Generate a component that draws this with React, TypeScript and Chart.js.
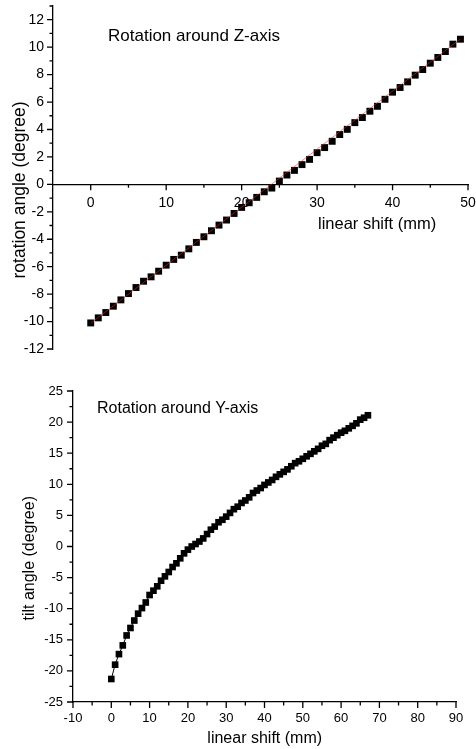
import React, { useEffect, useRef } from 'react';
import { Chart, registerables } from 'chart.js';

Chart.register(...registerables);

// ---------- Top chart: Rotation around Z-axis ----------
const zShift = [0, 1, 2, 3, 4, 5, 6, 7, 8, 9, 10, 11, 12, 13, 14, 15, 16, 17, 18, 19, 20, 21, 22, 23, 24, 25, 26, 27, 28, 29, 30, 31, 32, 33, 34, 35, 36, 37, 38, 39, 40, 41, 42, 43, 44, 45, 46, 47, 48, 49];
const zAngle = [-10.1, -9.73, -9.34, -8.88, -8.42, -7.96, -7.52, -7.06, -6.74, -6.33, -5.89, -5.47, -5.16, -4.7, -4.23, -3.82, -3.38, -2.97, -2.6, -2.12, -1.68, -1.34, -0.95, -0.54, -0.27, 0.24, 0.68, 1.02, 1.44, 1.82, 2.31, 2.68, 3.14, 3.63, 4.01, 4.5, 4.87, 5.33, 5.69, 6.2, 6.72, 7.06, 7.47, 7.96, 8.37, 8.83, 9.25, 9.68, 10.22, 10.58];
const zFitShift = [0, 49];
const zFitAngle = [-10.12, 10.6];
const zXTicks = [0, 10, 20, 30, 40, 50];
const zYTicks = [-12, -10, -8, -6, -4, -2, 0, 2, 4, 6, 8, 10, 12];
const zXMinor = [5, 15, 25, 35, 45];
const zYMinor = [-11, -9, -7, -5, -3, -1, 1, 3, 5, 7, 9, 11, 13];

// ---------- Bottom chart: Rotation around Y-axis ----------
const yShift = [0, 1, 2, 3, 4, 5, 6, 7, 8, 9, 10, 11, 12, 13, 14, 15, 16, 17, 18, 19, 20, 21, 22, 23, 24, 25, 26, 27, 28, 29, 30, 31, 32, 33, 34, 35, 36, 37, 38, 39, 40, 41, 42, 43, 44, 45, 46, 47, 48, 49, 50, 51, 52, 53, 54, 55, 56, 57, 58, 59, 60, 61, 62, 63, 64, 65, 66, 67];
const yTilt = [-21.3, -19.0, -17.3, -15.9, -14.3, -13.1, -11.9, -10.8, -9.9, -9.0, -7.8, -7.1, -6.4, -5.5, -4.8, -4.1, -3.3, -2.7, -1.9, -1.1, -0.5, 0.0, 0.4, 0.8, 1.3, 2.0, 2.7, 3.2, 3.9, 4.3, 4.8, 5.4, 6.0, 6.4, 7.0, 7.4, 7.9, 8.6, 9.0, 9.4, 9.9, 10.3, 10.7, 11.2, 11.6, 12.0, 12.4, 12.9, 13.4, 13.7, 14.1, 14.5, 14.9, 15.3, 15.7, 16.2, 16.5, 17.1, 17.5, 17.9, 18.3, 18.6, 19.0, 19.4, 19.8, 20.4, 20.7, 21.1];
const yXTicks = [-10, 0, 10, 20, 30, 40, 50, 60, 70, 80, 90];
const yYTicks = [-25, -20, -15, -10, -5, 0, 5, 10, 15, 20, 25];
const yXMinor = [-5, 5, 15, 25, 35, 45, 55, 65, 75, 85];
const yYMinor = [-22.5, -17.5, -12.5, -7.5, -2.5, 2.5, 7.5, 12.5, 17.5, 22.5];

const FONT = '"Liberation Sans", Arial, sans-serif';

type TextItem = { text: string; x: number; y: number; size: number; align: CanvasTextAlign; baseline: CanvasTextBaseline; rot?: number };
type DecorCfg = {
  xAxisAtY: number | null;
  xMajor: number[]; xMinor: number[];
  yMajor: number[]; yMinor: number[];
  majorLen: number; minorLen: number;
  texts: TextItem[];
};

function makeDecor(cfg: DecorCfg) {
  return {
    id: 'axisDecor',
    afterDraw(chart: any) {
      const { ctx, chartArea, scales } = chart;
      const xs = scales.x;
      const ys = scales.y;
      ctx.save();
      ctx.strokeStyle = '#000';
      ctx.lineWidth = 1.3;
      const xLineY = cfg.xAxisAtY !== null ? ys.getPixelForValue(cfg.xAxisAtY) : chartArea.bottom;
      const yLineX = chartArea.left;
      ctx.beginPath();
      for (const v of cfg.xMajor) {
        const p = xs.getPixelForValue(v);
        ctx.moveTo(p, xLineY);
        ctx.lineTo(p, xLineY + cfg.majorLen);
      }
      for (const v of cfg.xMinor) {
        const p = xs.getPixelForValue(v);
        ctx.moveTo(p, xLineY);
        ctx.lineTo(p, xLineY + cfg.minorLen);
      }
      for (const v of cfg.yMajor) {
        const p = ys.getPixelForValue(v);
        ctx.moveTo(yLineX, p);
        ctx.lineTo(yLineX - cfg.majorLen, p);
      }
      for (const v of cfg.yMinor) {
        const p = ys.getPixelForValue(v);
        ctx.moveTo(yLineX, p);
        ctx.lineTo(yLineX - cfg.minorLen, p);
      }
      ctx.stroke();
      ctx.fillStyle = '#000';
      for (const t of cfg.texts) {
        ctx.save();
        ctx.translate(t.x, t.y);
        if (t.rot) ctx.rotate(t.rot);
        ctx.font = `${t.size}px ${FONT}`;
        ctx.textAlign = t.align;
        ctx.textBaseline = t.baseline;
        ctx.fillText(t.text, 0, 0);
        ctx.restore();
      }
      ctx.restore();
    },
  };
}

function baseScale(min: number, max: number, tickVals: number[], fontSize: number, padding: number) {
  return {
    type: 'linear' as const,
    min,
    max,
    afterBuildTicks: (s: any) => {
      s.ticks = tickVals.map((v) => ({ value: v }));
    },
    ticks: {
      font: { family: FONT, size: fontSize },
      color: '#000',
      padding,
      autoSkip: false,
      maxRotation: 0,
      minRotation: 0,
    },
    grid: { display: true, drawOnChartArea: false, drawTicks: false },
    border: { display: true, color: '#000', width: 1.3 },
  };
}

function TopChart() {
  const ref = useRef<HTMLCanvasElement>(null);
  useEffect(() => {
    if (!ref.current) return;
    const decor = makeDecor({
      xAxisAtY: 0,
      xMajor: zXTicks,
      xMinor: zXMinor,
      yMajor: zYTicks,
      yMinor: zYMinor,
      majorLen: 6,
      minorLen: 3.5,
      texts: [
        { text: 'Rotation around Z-axis', x: 108, y: 40.5, size: 17, align: 'left', baseline: 'alphabetic' },
        { text: 'linear shift (mm)', x: 318, y: 229, size: 16.5, align: 'left', baseline: 'alphabetic' },
        { text: 'rotation angle (degree)', x: 20, y: 190, size: 17.5, align: 'center', baseline: 'middle', rot: -Math.PI / 2 },
      ],
    });
    const xScale: any = baseScale(-5, 50, zXTicks, 14, 10);
    xScale.position = { y: 0 };
    xScale.afterFit = (s: any) => { s.paddingLeft = 0; s.paddingRight = 0; };
    const yScale: any = baseScale(-12, 13, zYTicks, 14, 9);
    yScale.position = 'left';
    yScale.afterFit = (s: any) => { s.width = 53; s.paddingTop = 0; s.paddingBottom = 0; };
    const chart = new Chart(ref.current, {
      type: 'scatter',
      data: {
        datasets: [
          {
            data: zFitShift.map((x, i) => ({ x, y: zFitAngle[i] })),
            showLine: true,
            borderColor: 'rgba(220,50,50,0.8)',
            borderWidth: 0.7,
            pointRadius: 0,
            order: 0,
          },
          {
            data: zShift.map((x, i) => ({ x, y: zAngle[i] })),
            pointStyle: 'rect',
            pointRadius: 4.9,
            backgroundColor: '#000',
            borderColor: '#000',
            borderWidth: 0,
            showLine: false,
            order: 1,
          },
        ],
      },
      options: {
        responsive: false,
        animation: false,
        layout: { padding: { left: 0, top: 6, right: 8, bottom: 11 } },
        plugins: { legend: { display: false }, tooltip: { enabled: false } },
        scales: { x: xScale, y: yScale },
      },
      plugins: [decor],
    } as any);
    return () => chart.destroy();
  }, []);
  return <canvas ref={ref} width={476} height={360} style={{ position: 'absolute', left: 0, top: 0, width: 476, height: 360 }} />;
}

function BottomChart() {
  const ref = useRef<HTMLCanvasElement>(null);
  useEffect(() => {
    if (!ref.current) return;
    const decor = makeDecor({
      xAxisAtY: null,
      xMajor: yXTicks,
      xMinor: yXMinor,
      yMajor: yYTicks,
      yMinor: yYMinor,
      majorLen: 6,
      minorLen: 3.5,
      texts: [
        { text: 'Rotation around Y-axis', x: 97, y: 43.3, size: 16, align: 'left', baseline: 'alphabetic' },
        { text: 'linear shift (mm)', x: 264.7, y: 373, size: 16, align: 'center', baseline: 'alphabetic' },
        { text: 'tilt angle (degree)', x: 30, y: 188.3, size: 16, align: 'center', baseline: 'middle', rot: -Math.PI / 2 },
      ],
    });
    const xScale: any = baseScale(-10, 90, yXTicks, 13, 9);
    xScale.position = 'bottom';
    xScale.afterFit = (s: any) => { s.height = 47; s.paddingLeft = 0; s.paddingRight = 0; };
    const yScale: any = baseScale(-25, 25, yYTicks, 13, 10);
    yScale.position = 'left';
    yScale.afterFit = (s: any) => { s.width = 73; s.paddingTop = 0; s.paddingBottom = 0; };
    const chart = new Chart(ref.current, {
      type: 'scatter',
      data: {
        datasets: [
          {
            data: yShift.map((x, i) => ({ x, y: yTilt[i] })),
            pointStyle: 'rect',
            pointRadius: 4.7,
            backgroundColor: '#000',
            borderColor: '#000',
            borderWidth: 1,
            pointBorderWidth: 0,
            showLine: true,
          },
        ],
      },
      options: {
        responsive: false,
        animation: false,
        layout: { padding: { left: 0, top: 21, right: 20, bottom: 0 } },
        plugins: { legend: { display: false }, tooltip: { enabled: false } },
        scales: { x: xScale, y: yScale },
      },
      plugins: [decor],
    } as any);
    return () => chart.destroy();
  }, []);
  return <canvas ref={ref} width={476} height={379} style={{ position: 'absolute', left: 0, top: 370, width: 476, height: 379 }} />;
}

export default function App() {
  return (
    <div style={{ position: 'absolute', left: 0, top: 0, width: 476, height: 749, background: '#fff', overflow: 'hidden' }}>
      <TopChart />
      <BottomChart />
    </div>
  );
}
